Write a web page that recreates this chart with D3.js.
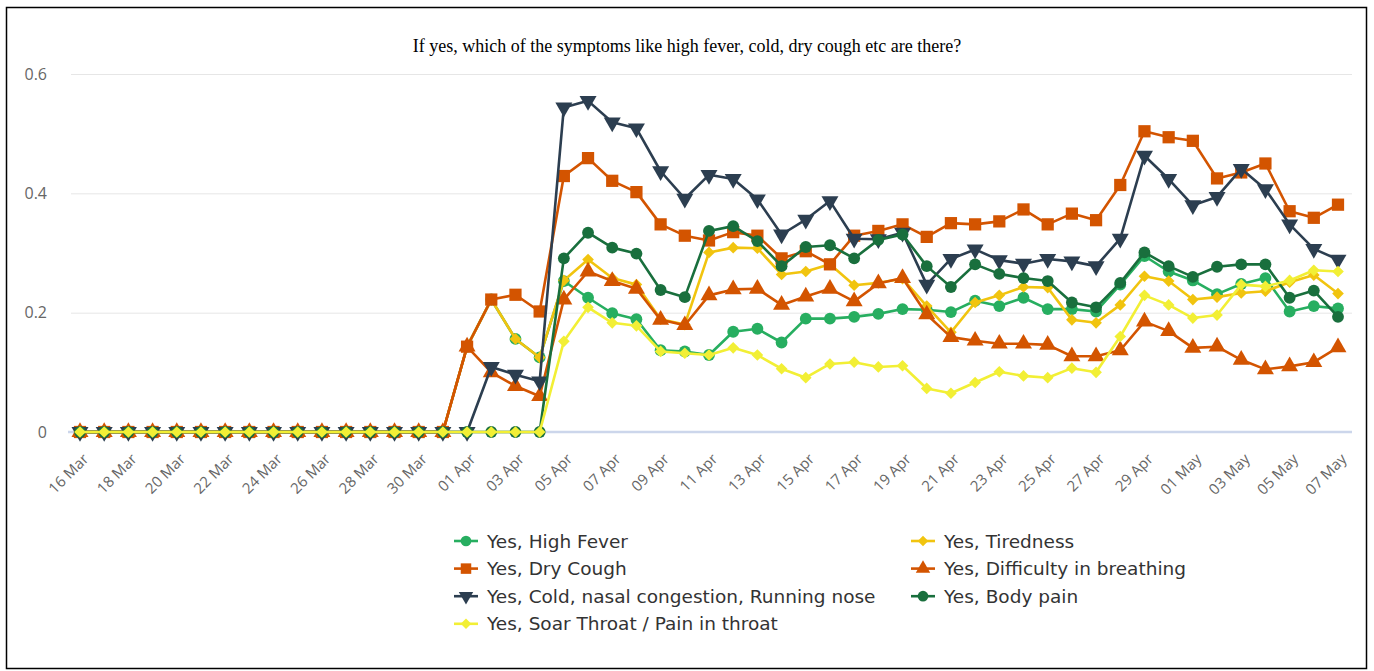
<!DOCTYPE html>
<html>
<head>
<meta charset="utf-8">
<script src="https://cdn.jsdelivr.net/npm/d3@7"></script>
<style>
  body { margin: 0; background: #fff; }
  svg { display: block; }
</style>
</head>
<body>
<div id="chart"></div>
<script>
// categories (daily, 16 Mar .. 07 May)
var dates = [
  "16 Mar", "17 Mar", "18 Mar", "19 Mar", "20 Mar", "21 Mar", "22 Mar", "23 Mar",
  "24 Mar", "25 Mar", "26 Mar", "27 Mar", "28 Mar", "29 Mar", "30 Mar", "31 Mar",
  "01 Apr", "02 Apr", "03 Apr", "04 Apr", "05 Apr", "06 Apr", "07 Apr", "08 Apr",
  "09 Apr", "10 Apr", "11 Apr", "12 Apr", "13 Apr", "14 Apr", "15 Apr", "16 Apr",
  "17 Apr", "18 Apr", "19 Apr", "20 Apr", "21 Apr", "22 Apr", "23 Apr", "24 Apr",
  "25 Apr", "26 Apr", "27 Apr", "28 Apr", "29 Apr", "30 Apr", "01 May", "02 May",
  "03 May", "04 May", "05 May", "06 May", "07 May"
];

var yTicks = [0, 0.2, 0.4, 0.6];

var highFever = [0, 0, 0, 0, 0, 0, 0, 0, 0, 0, 0, 0, 0, 0, 0, 0,
  0.143, 0.222, 0.156, 0.125, 0.253, 0.225, 0.199, 0.189, 0.137, 0.135, 0.129, 0.168, 0.173,
  0.150, 0.190, 0.190, 0.193, 0.198, 0.206, 0.205, 0.201, 0.220, 0.211, 0.225, 0.206,
  0.206, 0.202, 0.247, 0.295, 0.269, 0.254, 0.231, 0.248, 0.258, 0.202, 0.211, 0.207];

var tiredness = [0, 0, 0, 0, 0, 0, 0, 0, 0, 0, 0, 0, 0, 0, 0, 0,
  0.143, 0.222, 0.156, 0.125, 0.254, 0.289, 0.258, 0.247, 0.189, 0.180, 0.301, 0.309, 0.308,
  0.264, 0.269, 0.281, 0.246, 0.250, 0.257, 0.211, 0.167, 0.217, 0.229, 0.243, 0.242,
  0.188, 0.183, 0.213, 0.261, 0.253, 0.222, 0.226, 0.233, 0.236, 0.251, 0.263, 0.232];

var dryCough = [0, 0, 0, 0, 0, 0, 0, 0, 0, 0, 0, 0, 0, 0, 0, 0,
  0.143, 0.222, 0.230, 0.202, 0.429, 0.459, 0.421, 0.402, 0.348, 0.329, 0.321, 0.335, 0.329,
  0.291, 0.303, 0.281, 0.329, 0.337, 0.348, 0.327, 0.350, 0.348, 0.353, 0.373, 0.348,
  0.366, 0.355, 0.414, 0.504, 0.494, 0.488, 0.425, 0.435, 0.450, 0.370, 0.359, 0.381];

var breathing = [0, 0, 0, 0, 0, 0, 0, 0, 0, 0, 0, 0, 0, 0, 0, 0,
  0.143, 0.100, 0.077, 0.060, 0.222, 0.269, 0.253, 0.240, 0.188, 0.179, 0.229, 0.239, 0.240,
  0.213, 0.227, 0.240, 0.219, 0.249, 0.258, 0.197, 0.159, 0.153, 0.148, 0.148, 0.146,
  0.127, 0.127, 0.137, 0.185, 0.169, 0.141, 0.143, 0.121, 0.105, 0.110, 0.117, 0.142];

var cold = [0, 0, 0, 0, 0, 0, 0, 0, 0, 0, 0, 0, 0, 0, 0, 0,
  0, 0.109, 0.096, 0.085, 0.544, 0.555, 0.519, 0.509, 0.437, 0.391, 0.431, 0.424, 0.390,
  0.331, 0.356, 0.387, 0.324, 0.323, 0.334, 0.247, 0.290, 0.306, 0.288, 0.282, 0.290,
  0.286, 0.278, 0.324, 0.463, 0.424, 0.380, 0.394, 0.441, 0.407, 0.348, 0.307, 0.289];

var bodyPain = [0, 0, 0, 0, 0, 0, 0, 0, 0, 0, 0, 0, 0, 0, 0, 0,
  0, 0, 0, 0, 0.291, 0.334, 0.309, 0.299, 0.238, 0.226, 0.337, 0.345, 0.320,
  0.278, 0.310, 0.313, 0.291, 0.322, 0.331, 0.278, 0.243, 0.281, 0.265, 0.258, 0.253,
  0.217, 0.209, 0.250, 0.301, 0.278, 0.260, 0.277, 0.281, 0.281, 0.225, 0.237, 0.193];

var soarThroat = [0, 0, 0, 0, 0, 0, 0, 0, 0, 0, 0, 0, 0, 0, 0, 0,
  0, 0, 0, 0, 0.152, 0.209, 0.183, 0.178, 0.135, 0.132, 0.129, 0.141, 0.129,
  0.106, 0.091, 0.114, 0.117, 0.109, 0.111, 0.073, 0.065, 0.083, 0.101, 0.094, 0.091,
  0.107, 0.100, 0.160, 0.229, 0.213, 0.191, 0.196, 0.247, 0.244, 0.254, 0.271, 0.269];

var series = [
  {name: "Yes, High Fever", values: highFever, color: "#27ae60", shape: "circle"},
  {name: "Yes, Tiredness", values: tiredness, color: "#f1c40f", shape: "diamond"},
  {name: "Yes, Dry Cough", values: dryCough, color: "#d35400", shape: "square"},
  {name: "Yes, Difficulty in breathing", values: breathing, color: "#d35400", shape: "triangle"},
  {name: "Yes, Cold, nasal congestion, Running nose", values: cold, color: "#2c3e50", shape: "triangle-down"},
  {name: "Yes, Body pain", values: bodyPain, color: "#196f3d", shape: "circle"},
  {name: "Yes, Soar Throat / Pain in throat", values: soarThroat, color: "#f2ef35", shape: "diamond"}
];

var W = 1374, H = 671;
var svg = d3.select("#chart").append("svg")
    .attr("width", W)
    .attr("height", H);

// outer frame
svg.append("rect")
    .attr("x", 6.5).attr("y", 7.5)
    .attr("width", 1360).attr("height", 661)
    .attr("fill", "#fff")
    .attr("stroke", "#000")
    .attr("stroke-width", 1.5);

svg.append("text")
    .attr("x", 687).attr("y", 52)
    .attr("text-anchor", "middle")
    .style("font-family", "'Liberation Serif', 'Times New Roman', serif")
    .style("font-size", "18px")
    .attr("fill", "#000")
    .text("If yes, which of the symptoms like high fever, cold, dry cough etc are there?");

var xScale = d3.scalePoint().domain(dates).range([80, 1338]);
var yScale = d3.scaleLinear().domain([0, 0.6]).range([432, 74]);

// grid lines + y labels
var yAxis = svg.append("g")
    .attr("transform", "translate(71,0)")
    .call(d3.axisLeft(yScale).tickValues(yTicks).tickSize(-1281)
      .tickFormat(function(d) { return d === 0 ? "0" : d3.format(".1f")(d); }));
yAxis.select(".domain").remove();
yAxis.selectAll(".tick line").attr("stroke", "#e6e6e6").attr("stroke-width", 1);
yAxis.selectAll(".tick text")
    .attr("x", -24)
    .attr("fill", "#666")
    .style("font-family", "'Open Sans', sans-serif")
    .style("font-size", "16px");

// x axis
var xAxis = svg.append("g")
    .attr("transform", "translate(0,432)")
    .call(d3.axisBottom(xScale)
      .tickValues(dates.filter(function(d, i) { return i % 2 === 0; }))
      .tickSize(0));
xAxis.select(".domain")
    .attr("d", "M68,0H1352")
    .attr("stroke", "#ccd6eb")
    .attr("stroke-width", 2.5);
xAxis.selectAll(".tick text")
    .attr("fill", "#666")
    .style("font-family", "'Open Sans', sans-serif")
    .style("font-size", "15px")
    .attr("text-anchor", "end")
    .attr("dy", null)
    .attr("y", null)
    .attr("transform", "translate(9,28) rotate(-45)");

function symbolPath(shape, size) {
  if (shape === "circle") return d3.symbol(d3.symbolCircle, size)();
  if (shape === "square") return d3.symbol(d3.symbolSquare, size)();
  if (shape === "diamond") return d3.symbol(d3.symbolSquare, size * 0.62)();
  return d3.symbol(d3.symbolTriangle, size)();
}
function symbolRotate(shape) {
  if (shape === "diamond") return 45;
  if (shape === "triangle-down") return 180;
  return 0;
}

var line = d3.line()
    .x(function(d, i) { return xScale(dates[i]); })
    .y(function(d) { return yScale(d); });

var plot = svg.append("g");
series.forEach(function(s) {
  var g = plot.append("g");
  g.append("path")
      .datum(s.values)
      .attr("fill", "none")
      .attr("stroke", s.color)
      .attr("stroke-width", 2.6)
      .attr("stroke-linejoin", "round")
      .attr("d", line);
  g.selectAll("path.pt")
      .data(s.values)
      .enter().append("path")
      .attr("class", "pt")
      .attr("d", symbolPath(s.shape, s.shape === "square" ? 150 : (s.shape.indexOf("triangle") === 0 ? 125 : 110)))
      .attr("fill", s.color)
      .attr("transform", function(d, i) {
        return "translate(" + xScale(dates[i]) + "," + yScale(d) + ") rotate(" + symbolRotate(s.shape) + ")";
      });
});

// legend, two columns
var legend = svg.append("g");
series.forEach(function(s, i) {
  var col = i % 2, row = Math.floor(i / 2);
  var lx = col === 0 ? 454 : 911;
  var ly = 541 + row * 27.6;
  var item = legend.append("g").attr("transform", "translate(" + lx + "," + ly + ")");
  item.append("line")
      .attr("x1", 0).attr("x2", 24)
      .attr("stroke", s.color)
      .attr("stroke-width", 2.6);
  item.append("path")
      .attr("d", symbolPath(s.shape, s.shape === "square" ? 110 : 90))
      .attr("fill", s.color)
      .attr("transform", "translate(12,0) rotate(" + symbolRotate(s.shape) + ")");
  item.append("text")
      .attr("x", 33).attr("y", 6.5)
      .attr("fill", "#333")
      .style("font-family", "'DejaVu Sans', sans-serif")
      .style("font-size", "18.5px")
      .text(s.name);
});
</script>
</body>
</html>
